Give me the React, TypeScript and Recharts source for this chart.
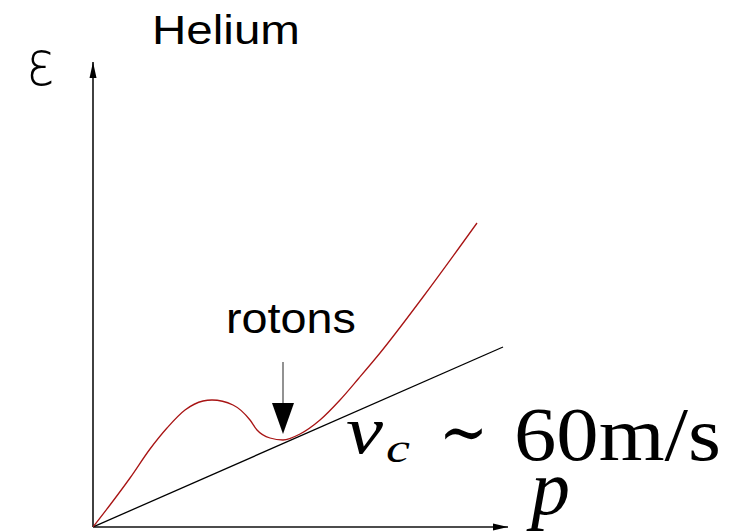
import { LineChart, Line, XAxis, YAxis, ReferenceDot, ReferenceLine } from 'recharts';

// dispersion curve of superfluid helium (momentum p, energy ε)
const P = [0, 0.17, 0.37, 0.57, 0.74, 0.92, 1.1, 1.19, 1.4, 1.57, 1.64, 1.77, 1.9, 2.07, 2.27, 2.47, 2.66, 2.87, 3.3, 3.84];
const E = [0, 0.22, 0.49, 0.78, 0.99, 1.17, 1.26, 1.27, 1.22, 1.07, 0.97, 0.89, 0.87, 0.93, 1.07, 1.27, 1.49, 1.74, 2.3, 3.04];

// critical velocity line ε = v_c p
const LINE_P = [0, 4.1];
const LINE_E = [0, 1.8];

// rotons pointer
const ROTON_P = 1.9;
const ROTON_TOP = 1.65;
const ROTON_HEAD = 1.23;
const ROTON_TIP = 0.93;

const P_MAX = 4.15;
const E_MAX = 4.65;

const curve = P.map((p, i) => ({ p, e: E[i] }));
const tangent = LINE_P.map((p, i) => ({ p, e: LINE_E[i] }));

const RED = '#a81414';

const ArrowRight = ({ cx, cy }: any) => (
  <polygon points={`${cx},${cy} ${cx - 15},${cy - 3.5} ${cx - 15},${cy + 3.5}`} fill="#000" />
);

const ArrowUp = ({ cx, cy }: any) => (
  <polygon points={`${cx},${cy} ${cx - 3.5},${cy + 16} ${cx + 3.5},${cy + 16}`} fill="#000" />
);

const Pointer = ({ cx, cy }: any) => (
  <polygon points={`${cx},${cy} ${cx - 11},${cy - 31} ${cx + 11},${cy - 31}`} fill="#000" />
);

export default function App() {
  return (
    <div style={{ position: 'absolute', left: 0, top: 0, width: 737, height: 531, background: '#fff' }}>
      <LineChart width={737} height={531} margin={{ top: 62, right: 229, bottom: 4, left: 93 }}>
        <XAxis type="number" dataKey="p" domain={[0, P_MAX]} allowDataOverflow hide />
        <YAxis type="number" dataKey="e" domain={[0, E_MAX]} allowDataOverflow hide />
        {/* axes */}
        <ReferenceLine y={0} stroke="#111" strokeWidth={1.6} ifOverflow="visible" />
        <ReferenceLine x={0} stroke="#111" strokeWidth={1.6} ifOverflow="visible" />
        <Line
          data={tangent}
          dataKey="e"
          type="linear"
          stroke="#000"
          strokeWidth={1.3}
          dot={false}
          isAnimationActive={false}
        />
        <Line
          data={curve}
          dataKey="e"
          type="monotone"
          stroke={RED}
          strokeWidth={1.3}
          dot={false}
          isAnimationActive={false}
        />
        <ReferenceLine
          segment={[{ x: ROTON_P, y: ROTON_TOP }, { x: ROTON_P, y: ROTON_HEAD }]}
          stroke="#777"
          strokeWidth={1.6}
          ifOverflow="visible"
        />
        <ReferenceDot x={ROTON_P} y={ROTON_TIP} ifOverflow="visible" shape={<Pointer />} />
        <ReferenceDot x={P_MAX} y={0} ifOverflow="visible" shape={<ArrowRight />} />
        <ReferenceDot x={0} y={E_MAX} ifOverflow="visible" shape={<ArrowUp />} />
      </LineChart>
      <svg
        width={737}
        height={531}
        style={{ position: 'absolute', left: 0, top: 0, pointerEvents: 'none' }}
      >
        <text x={152} y={44} fontFamily="Liberation Sans, Arial, sans-serif" fontSize={40} textLength={148} lengthAdjust="spacingAndGlyphs" fill="#000">
          Helium
        </text>
        <text x={226} y={333} fontFamily="Liberation Sans, Arial, sans-serif" fontSize={42} textLength={130} lengthAdjust="spacingAndGlyphs" fill="#000">
          rotons
        </text>
        <text x={26} y={85} fontFamily="DejaVu Sans, sans-serif" fontWeight={200} fontSize={62} textLength={29} lengthAdjust="spacingAndGlyphs" fill="#000">
          ε
        </text>
        <text x={531} y={514} fontFamily="Liberation Serif, serif" fontStyle="italic" fontSize={78} fill="#000">
          p
        </text>
        <g fontFamily="Liberation Serif, serif" fill="#000">
          <text x={346} y={453} fontStyle="italic" fontSize={68} textLength={37} lengthAdjust="spacingAndGlyphs">v</text>
          <text x={386} y={462} fontStyle="italic" fontSize={42} textLength={24} lengthAdjust="spacingAndGlyphs">c</text>
          <text x={439} y={456} fontFamily="DejaVu Serif, serif" fontSize={70} textLength={49} lengthAdjust="spacingAndGlyphs">∼</text>
          <text x={514} y={460} fontSize={76} textLength={207} lengthAdjust="spacingAndGlyphs">60m/s</text>
        </g>
      </svg>
    </div>
  );
}
